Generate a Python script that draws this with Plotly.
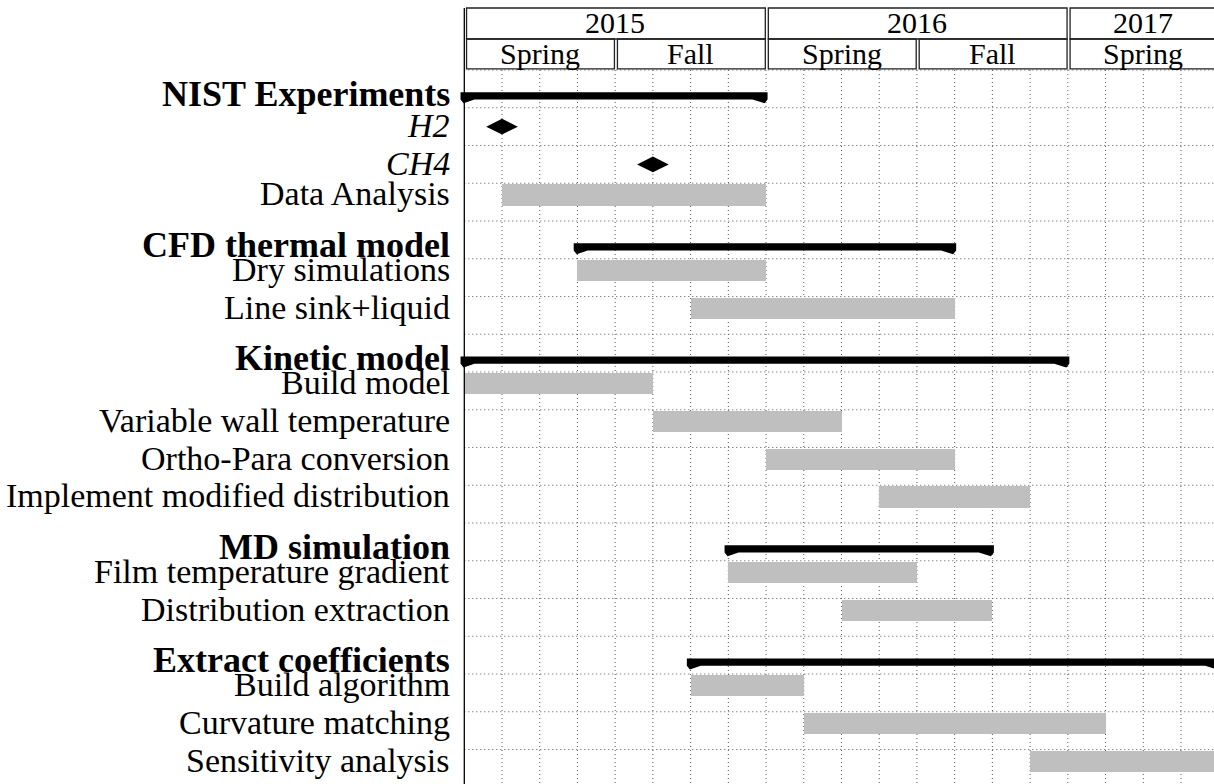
import plotly.graph_objects as go

# ---------------- data ----------------
row_labels = ["NIST Experiments", "H2", "CH4", "Data Analysis",
              "CFD thermal model", "Dry simulations", "Line sink+liquid",
              "Kinetic model", "Build model", "Variable wall temperature",
              "Ortho-Para conversion", "Implement modified distribution",
              "MD simulation", "Film temperature gradient", "Distribution extraction",
              "Extract coefficients", "Build algorithm", "Curvature matching",
              "Sensitivity analysis"]
row_kinds = ["group", "milestone", "milestone", "bar",
             "group", "bar", "bar",
             "group", "bar", "bar", "bar", "bar",
             "group", "bar", "bar",
             "group", "bar", "bar", "bar"]
row_starts = [0, 1, 5, 1, 3, 3, 6, 0, 0, 5, 8, 11, 7, 7, 10, 6, 6, 9, 15]
row_ends = [8, 1, 5, 8, 13, 8, 13, 16, 5, 10, 13, 15, 14, 12, 14, 20, 9, 17, 20]

years = ["2015", "2016", "2017"]
year_starts = [0, 8, 16]
year_ends = [8, 16, 20]
seasons = ["Spring", "Fall", "Spring", "Fall", "Spring"]
season_starts = [0, 4, 8, 12, 16]
season_ends = [4, 8, 12, 16, 20]
n_units = 20

# ---------------- geometry ----------------
W, H = 1214, 784
UNIT_PX = 37.72
ROW_PX = 37.75
X0_PX = 464.3
Y0_PX = 70
xr = [-X0_PX / UNIT_PX, (W - X0_PX) / UNIT_PX]
yr = [(H - Y0_PX) / ROW_PX, -Y0_PX / ROW_PX]
n_rows = len(row_labels)
HDR_TOP = -62 / ROW_PX
HDR_MID = -31 / ROW_PX

FONT = "Liberation Serif"
BAR_COLOR = "#bfbfbf"
DOT = "#555555"

fig = go.Figure()

# task bars
bar_idx = [i for i, k in enumerate(row_kinds) if k == "bar"]
fig.add_trace(go.Bar(
    orientation="h",
    y=[i for i in bar_idx],
    base=[row_starts[i] for i in bar_idx],
    x=[row_ends[i] - row_starts[i] for i in bar_idx],
    width=0.56, offset=0.03,
    marker=dict(color=BAR_COLOR, line=dict(width=0)),
    hoverinfo="skip", showlegend=False,
))

# group bars (with peaks)
gx, gy = [], []
for i, k in enumerate(row_kinds):
    if k != "group":
        continue
    s, e = row_starts[i], row_ends[i]
    top, bot, tip = i + 0.59, i + 0.78, i + 0.88
    pts = [(s - 0.1, top), (e + 0.04, top), (e + 0.04, bot), (e - 0.04, tip),
           (e - 0.36, bot), (s + 0.27, bot), (s - 0.02, tip), (s - 0.1, bot),
           (s - 0.1, top)]
    gx += [p[0] for p in pts] + [None]
    gy += [p[1] for p in pts] + [None]
fig.add_trace(go.Scatter(x=gx, y=gy, mode="lines", fill="toself",
                         fillcolor="black", line=dict(width=0, color="black"),
                         hoverinfo="skip", showlegend=False))

# milestones
mx, my = [], []
for i, k in enumerate(row_kinds):
    if k != "milestone":
        continue
    c, yc = row_starts[i], i + 0.5
    pts = [(c - 0.42, yc), (c, yc - 0.21), (c + 0.42, yc), (c, yc + 0.21), (c - 0.42, yc)]
    mx += [p[0] for p in pts] + [None]
    my += [p[1] for p in pts] + [None]
fig.add_trace(go.Scatter(x=mx, y=my, mode="lines", fill="toself",
                         fillcolor="black", line=dict(width=0, color="black"),
                         hoverinfo="skip", showlegend=False))

shapes = []
# dotted grid
for u in range(1, n_units + 1):
    shapes.append(dict(type="line", xref="x", yref="y", x0=u, x1=u, y0=0, y1=n_rows,
                       line=dict(color=DOT, width=1, dash="1px,3px"), layer="below"))
for r in range(0, n_rows + 1):
    shapes.append(dict(type="line", xref="x", yref="y", x0=0, x1=n_units, y0=r, y1=r,
                       line=dict(color=DOT, width=1, dash="1px,3px"), layer="below"))
# left axis line
shapes.append(dict(type="line", xref="x", yref="y", x0=0, x1=0, y0=HDR_TOP, y1=n_rows,
                   line=dict(color="black", width=1.3)))
# header cells
for s, e in zip(year_starts, year_ends):
    shapes.append(dict(type="rect", xref="x", yref="y", x0=s + 0.06, x1=e - 0.02,
                       y0=HDR_TOP, y1=HDR_MID, line=dict(color="#222222", width=1.3)))
for s, e in zip(season_starts, season_ends):
    shapes.append(dict(type="rect", xref="x", yref="y", x0=s + 0.06, x1=e - 0.02,
                       y0=HDR_MID, y1=-0.03, line=dict(color="#222222", width=1.3)))

annotations = []
for t, s, e in zip(years, year_starts, year_ends):
    annotations.append(dict(x=(s + e) / 2, y=(HDR_TOP + HDR_MID) / 2 - 0.03, text=t,
                            xref="x", yref="y", showarrow=False,
                            font=dict(family=FONT, size=30, color="black")))
for t, s, e in zip(seasons, season_starts, season_ends):
    annotations.append(dict(x=(s + e) / 2, y=(HDR_MID + 0) / 2 - 0.03, text=t,
                            xref="x", yref="y", showarrow=False,
                            font=dict(family=FONT, size=30, color="black")))
for i, (lab, k) in enumerate(zip(row_labels, row_kinds)):
    if k == "group":
        txt, yy, size = "<b>" + lab + "</b>", i + 0.64, 36
    elif k == "milestone":
        txt, yy, size = "<i>" + lab + "</i>", i + 0.48, 34
    else:
        txt, yy, size = lab, i + 0.28, 34
    annotations.append(dict(x=-0.32, y=yy, text=txt, xref="x", yref="y",
                            xanchor="right", yanchor="middle", showarrow=False,
                            font=dict(family=FONT, size=size, color="black")))

fig.update_layout(
    width=W, height=H,
    margin=dict(l=0, r=0, t=0, b=0),
    paper_bgcolor="white", plot_bgcolor="white",
    xaxis=dict(range=xr, visible=False, showgrid=False, zeroline=False, fixedrange=True),
    yaxis=dict(range=yr, visible=False, showgrid=False, zeroline=False, fixedrange=True),
    shapes=shapes, annotations=annotations, bargap=0, showlegend=False,
)

# remove the browser's default page margin so the figure fills the window exactly
fig.write_html("out.html", config={"displayModeBar": False},
               post_script="document.body.style.margin='0px';document.body.style.overflow='hidden';")
